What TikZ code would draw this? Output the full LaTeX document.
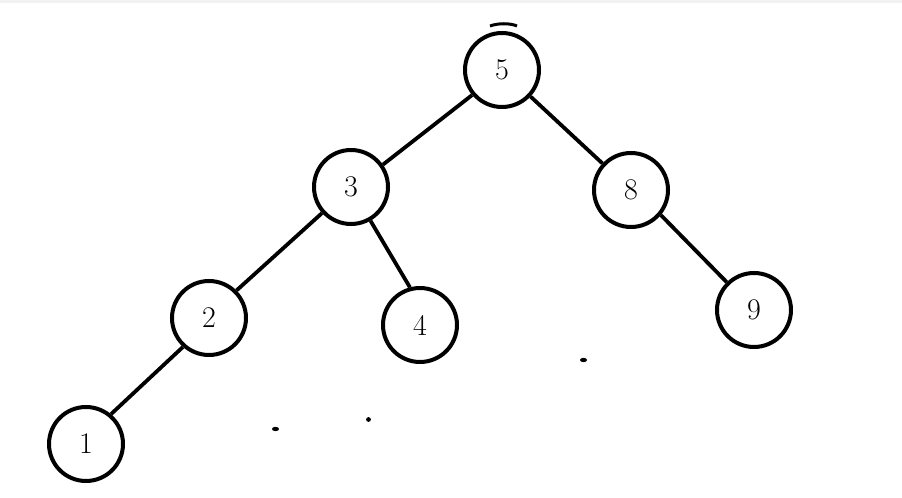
\documentclass[tikz,border=0pt]{standalone}
\usepackage{tikz}
\usetikzlibrary{calc}
\tikzset{
  key/.style={circle, draw, line width=2pt, minimum size=37pt, inner sep=0pt, font=\fontsize{15}{17}\selectfont},
  lnk/.style={line width=1.9pt},
  spk/.style={fill=black},
}

\begin{document}
\begin{tikzpicture}[x=0.5pt,y=0.5pt]
  \useasboundingbox (0,0) rectangle (902,498);
  \fill[gray!10] (0,495) rectangle (902,498);
  % keys of the tree
  \node[key] (k5) at (502,428) {5};
  \node[key] (k3) at (351,311) {3};
  \node[key] (k8) at (631,308) {8};
  \node[key] (k2) at (209,180) {2};
  \node[key] (k4) at (420,173) {4};
  \node[key] (k9) at (754,188) {9};
  \node[key] (k1) at (86,54) {1};
  % links
  \draw[lnk] (k5.220) -- (k3.35);
  \draw[lnk] (k5) -- (k8);
  \draw[lnk] (k3.222) -- (k2.45);
  \draw[lnk] (k3.-60) -- (k4.105);
  \draw[lnk] (k2.228) -- (k1.50);
  \draw[lnk] (k8.-40) -- (k9);
  % specks
  \draw[line width=1.5pt] (490,472) .. controls (498,475) and (510,475) .. (517,472);
  \fill[spk] (583.5,138) ellipse (3.5 and 2.2);
  \fill[spk] (275.5,69) ellipse (3.5 and 2.2);
  \fill[spk] (368.5,78.5) circle (2.4);
\end{tikzpicture}
\end{document}
